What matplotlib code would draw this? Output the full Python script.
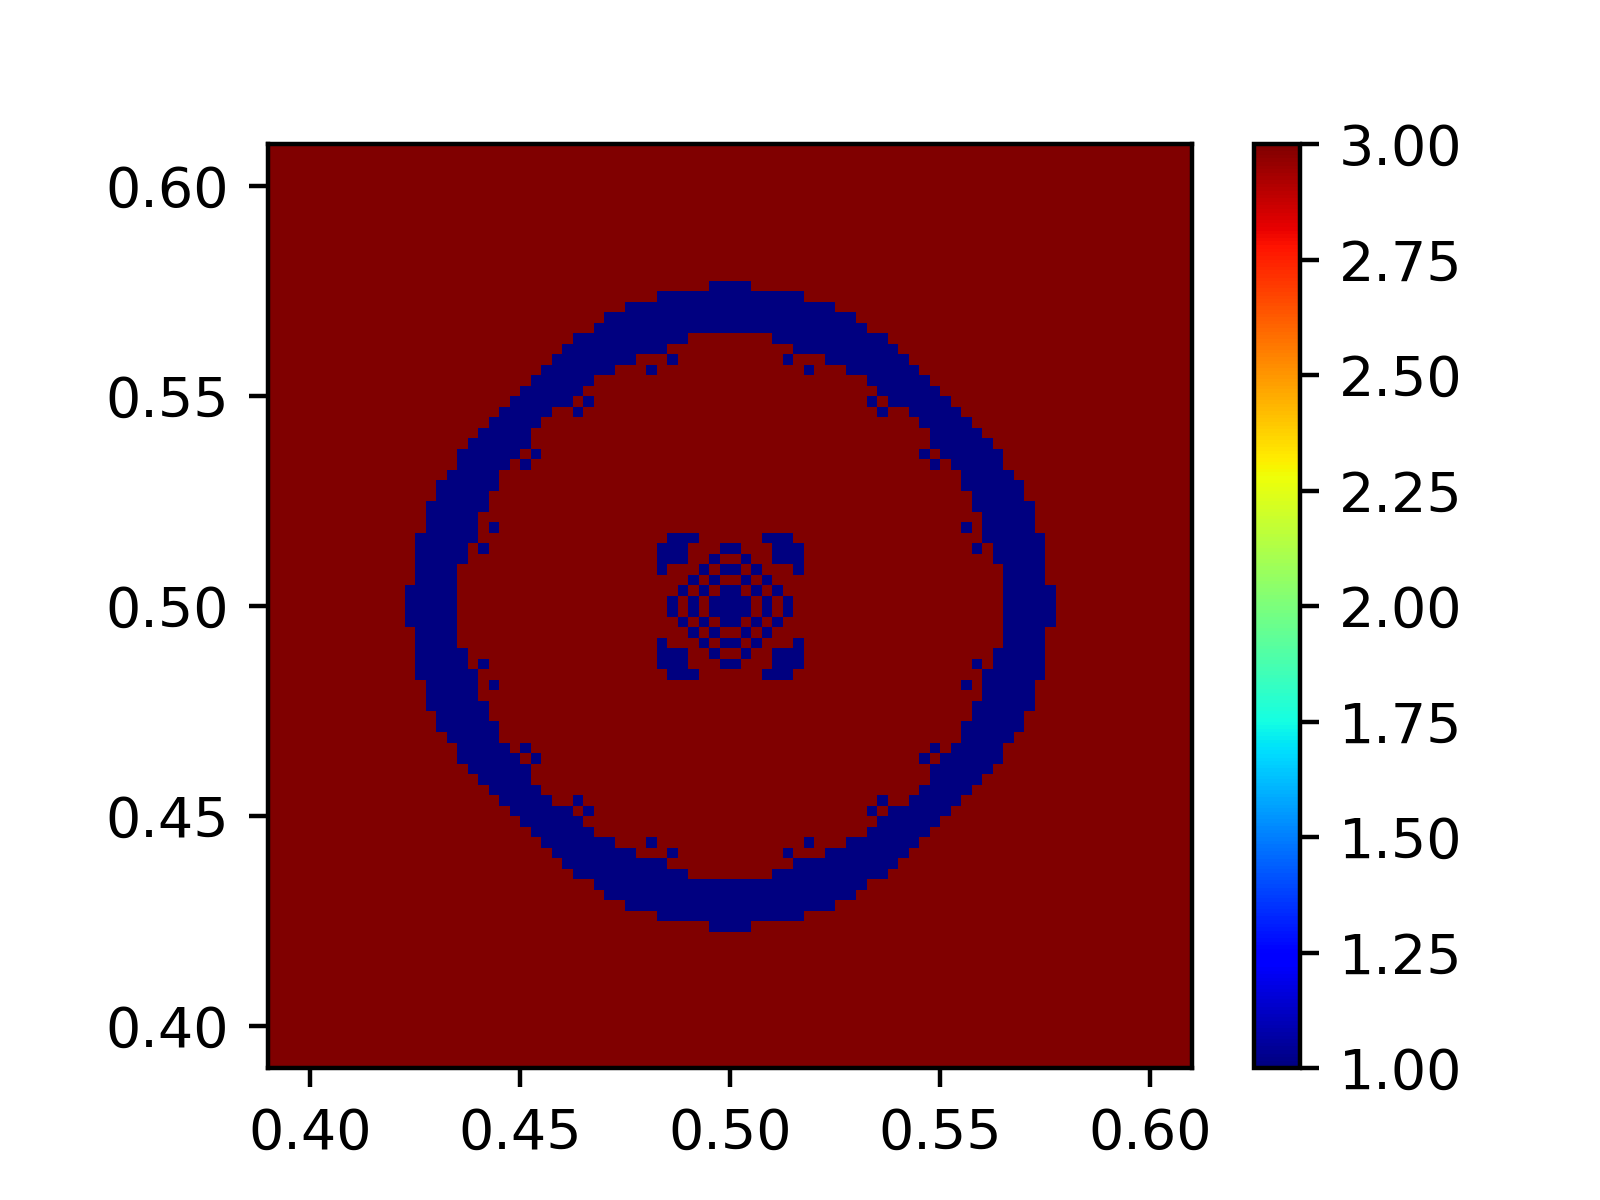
import numpy as np
import matplotlib
matplotlib.use("Agg")
import matplotlib.pyplot as plt

# grid is 88 x 88 cells over [0.39, 0.61]^2
grid_size = 88
x_range = [0.39, 0.61]
y_range = [0.39, 0.61]
low_value = 1.0
high_value = 3.0

# upper left quadrant, row -> (first col, last col) runs of low value cells
# the field is mirrored in both directions
low_runs = {
    13: [(42, 43)],
    14: [(37, 43)],
    15: [(34, 43)],
    16: [(32, 43)],
    17: [(31, 43)],
    18: [(29, 39)],
    19: [(28, 37)],
    20: [(27, 34), (38, 38)],
    21: [(26, 32), (36, 36)],
    22: [(25, 30)],
    23: [(24, 29)],
    24: [(23, 28), (30, 30)],
    25: [(22, 26), (29, 29)],
    26: [(21, 25)],
    27: [(20, 24)],
    28: [(19, 24)],
    29: [(18, 23), (25, 25)],
    30: [(18, 22), (24, 24)],
    31: [(17, 21)],
    32: [(16, 21)],
    33: [(16, 20)],
    34: [(15, 20)],
    35: [(15, 19)],
    36: [(15, 19), (21, 21)],
    37: [(14, 19), (38, 40)],
    38: [(14, 18), (20, 20), (37, 39), (43, 43)],
    39: [(14, 18), (37, 39), (42, 42)],
    40: [(14, 17), (37, 37), (41, 41), (43, 43)],
    41: [(14, 17), (40, 40), (42, 42)],
    42: [(13, 17), (39, 39), (41, 41), (43, 43)],
    43: [(13, 17), (38, 38), (40, 40), (42, 43)],
}

field = np.full((grid_size, grid_size), high_value)
for row, runs in low_runs.items():
    for first, last in runs:
        field[row, first:last + 1] = low_value
        field[row, grid_size - 1 - last:grid_size - first] = low_value
        field[grid_size - 1 - row, first:last + 1] = low_value
        field[grid_size - 1 - row, grid_size - 1 - last:grid_size - first] = low_value

x_edges = np.linspace(x_range[0], x_range[1], grid_size + 1)
y_edges = np.linspace(y_range[0], y_range[1], grid_size + 1)

fig, ax = plt.subplots(figsize=(4, 3), dpi=400)
mesh = ax.pcolormesh(x_edges, y_edges, field, cmap="jet")
ax.set_aspect("equal")
plt.colorbar(mesh)
plt.savefig("out.png")
